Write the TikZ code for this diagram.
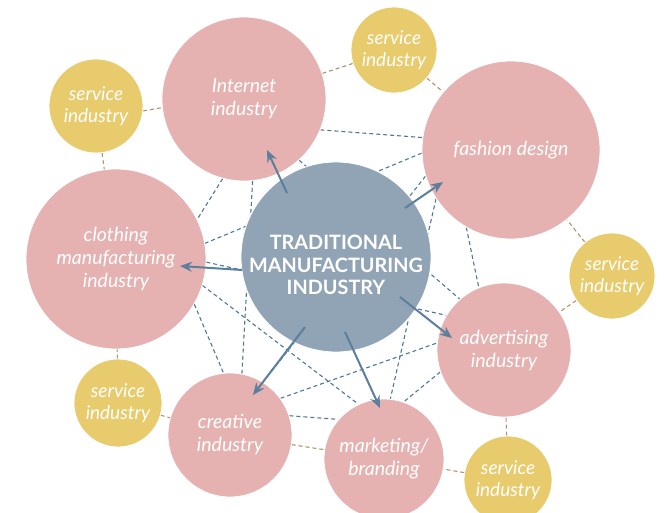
\documentclass[tikz,border=0pt]{standalone}
\usepackage{fontspec}
\setmainfont{Lato}
\usetikzlibrary{arrows.meta,backgrounds}
\definecolor{pinkc}{HTML}{E5B1B1}
\definecolor{yellowc}{HTML}{E8CB6C}
\definecolor{bluec}{HTML}{91A4B6}
\definecolor{dashblue}{HTML}{4E7898}
\definecolor{dashbrown}{HTML}{B3906E}
\definecolor{arrowc}{HTML}{5B7F9C}
\begin{document}
\begin{tikzpicture}[x=1pt,y=-1pt,
 bubble/.style={circle, draw=white, line width=0.8pt, inner sep=0pt, text=white, align=center},
 pinkb/.style={bubble, fill=pinkc, font=\itshape\fontsize{19.5}{23}\selectfont},
 yellowb/.style={bubble, fill=yellowc, font=\itshape\fontsize{19}{21.5}\selectfont},
 coreb/.style={bubble, fill=bluec},
 coretext/.style={text=white, align=center, inner sep=0pt, font=\bfseries\fontsize{19.8}{22.5}\selectfont},
 webline/.style={draw=dashblue, line width=1.1pt, dash pattern=on 4pt off 3pt},
 tieline/.style={draw=dashbrown, line width=1.1pt, dash pattern=on 4pt off 3pt},
 flow/.style={draw=arrowc, line width=2pt, -{Stealth[length=12pt,width=10pt]}}
]
\useasboundingbox (0,0) rectangle (668,513);
% central circle
\node[coreb, minimum size=190] (T) at (336,257) {};
\node[coretext] (Tt) at (336,265) {TRADITIONAL\\MANUFACTURING\\INDUSTRY};
% pink circles
\node[pinkb, minimum size=164] (I) at (244,99) {Internet\\industry};
\node[pinkb, minimum size=178] (F) at (511,150) {fashion design};
\node[pinkb, minimum size=180] (C) at (116,259) {clothing\\manufacturing\\industry};
\node[pinkb, minimum size=134] (A) at (504,350) {advertising\\industry};
\node[pinkb, minimum size=124] (Cr) at (230,435) {creative\\industry};
\node[pinkb, minimum size=120] (M) at (384,459) {marketing/\\branding};
% yellow circles
\node[yellowb, minimum size=86] (S1) at (394,50) {service\\industry};
\node[yellowb, minimum size=94] (S2) at (96,106) {service\\industry};
\node[yellowb, minimum size=86] (S3) at (612,276) {service\\industry};
\node[yellowb, minimum size=88] (S4) at (118,403) {service\\industry};
\node[yellowb, minimum size=88] (S5) at (508,480) {service\\industry};
% connectors behind the circles
\begin{scope}[on background layer]
\draw[webline] (I.-22) -- (F.172);
\draw[webline] (F.182) -- (C.10);
\draw[webline] (I.255) -- (C.26);
\draw[webline] (I.276) -- (Cr.79);
\draw[webline] (I.312) -- (A.131);
\draw[webline] (F.240) -- (A.112);
\draw[webline] (F.197) -- (Cr.58);
\draw[webline] (F.213) -- (M.84);
\draw[webline] (C.-2.5) -- (A.149);
\draw[webline] (C.330) -- (Cr.96);
\draw[webline] (C.343) -- (M.115);
\draw[webline] (Cr.36.5) -- (A.174);
\draw[webline] (A.199) -- (M.71.5);
\draw[webline] (Cr.18) -- (M.139);
\draw[tieline] (S1) -- (I);
\draw[tieline] (S1) -- (F);
\draw[tieline] (S2.-6) -- (I.186);
\draw[tieline] (S2) -- (C);
\draw[tieline] (S3) -- (F);
\draw[tieline] (S3) -- (A);
\draw[tieline] (S4) -- (C);
\draw[tieline] (S4) -- (Cr);
\draw[tieline] (S5) -- (M);
\draw[tieline] (S5) -- (A);
\draw[tieline] (Cr) -- (M);
\end{scope}
% arrows
\coordinate (tI) at (287,193); \coordinate (hI) at (267,150);
\coordinate (tF) at (405,208); \coordinate (hF) at (443,182);
\coordinate (tC) at (242,270); \coordinate (hC) at (180,266);
\coordinate (tA) at (400,297); \coordinate (hA) at (452,338);
\coordinate (tCr) at (305,327); \coordinate (hCr) at (253,395);
\coordinate (tM) at (345,332); \coordinate (hM) at (380,408);
\draw[flow] (tI) -- (hI);
\draw[flow] (tF) -- (hF);
\draw[flow] (tC) -- (hC);
\draw[flow] (tA) -- (hA);
\draw[flow] (tCr) -- (hCr);
\draw[flow] (tM) -- (hM);
\end{tikzpicture}
\end{document}
